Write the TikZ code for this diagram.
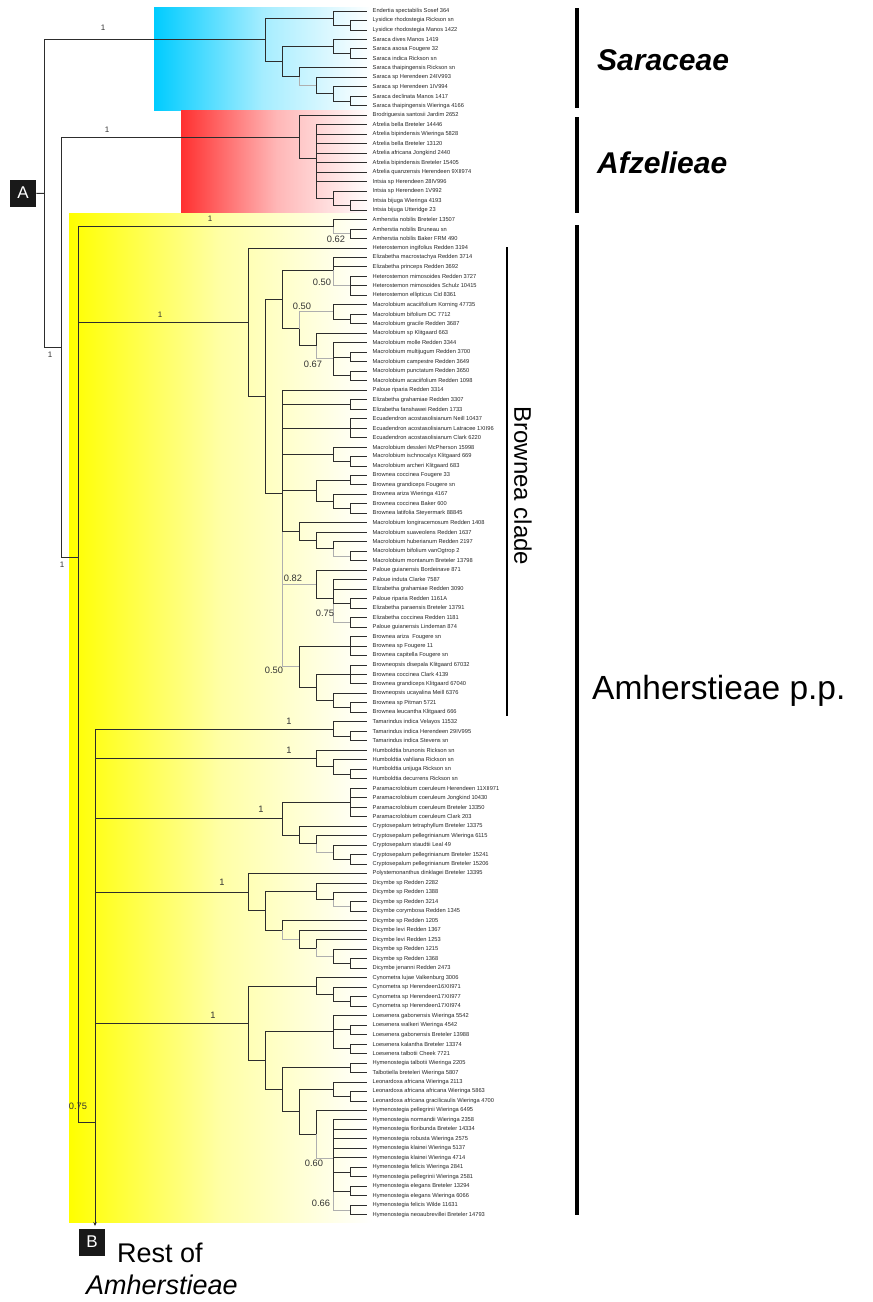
\documentclass[tikz,border=0pt]{standalone}
\usepackage{fontspec}
\setmainfont{Liberation Sans}
\usetikzlibrary{calc,arrows.meta}
\definecolor{cyanc}{RGB}{0,204,255}
\definecolor{redc}{RGB}{255,48,48}
\definecolor{yelc}{RGB}{255,255,0}
\definecolor{brc}{RGB}{45,45,45}
\definecolor{loc}{RGB}{175,175,175}
\pgfdeclarehorizontalshading{cyansh}{100bp}{color(0bp)=(cyanc); color(25bp)=(cyanc); color(50bp)=(cyanc!35!white); color(75bp)=(white); color(100bp)=(white)}
\pgfdeclarehorizontalshading{redsh}{100bp}{color(0bp)=(redc); color(25bp)=(redc); color(50bp)=(redc!35!white); color(75bp)=(white); color(100bp)=(white)}
\pgfdeclarehorizontalshading{yelsh}{100bp}{color(0bp)=(yelc); color(25bp)=(yelc); color(50bp)=(yelc!35!white); color(75bp)=(white); color(100bp)=(white)}
\newdimen\mydim
\newcommand\addy[1]{\pgfextracty{\mydim}{\pgfpointanchor{#1}{center}}%
  \pgfmathsetmacro\tmpS{\sumy+\mydim}\global\let\sumy\tmpS
  \pgfmathsetmacro\tmpC{\cnt+1}\global\let\cnt\tmpC}
\newcommand\nd[4]{%
  \gdef\sumy{0}\gdef\cnt{0}%
  \foreach \ch in {#3}{\addy{\ch}}%
  \if\relax\detokenize{#4}\relax\else\foreach \ch in {#4}{\addy{\ch}}\fi
  \pgfmathsetmacro\meany{\sumy/\cnt}%
  \coordinate (#1) at ({(367-17*#2)*1pt},{\meany*1pt});%
  \if\relax\detokenize{#4}\relax\else\foreach \ch in {#4}{\draw[lo] (#1) |- (\ch);}\fi
  \foreach \ch in {#3}{\draw[br] (#1) |- (\ch);}%
}
\begin{document}
\begin{tikzpicture}[x=1pt,y=-1pt,
  br/.style={draw=brc,line width=0.9pt},
  lo/.style={draw=loc,line width=0.9pt},
  taxon/.style={anchor=west,inner sep=0pt,text=black!85,font=\fontsize{5.7}{6}\selectfont},
  supp/.style={inner sep=0pt,text=black!80,font=\fontsize{9.3}{10}\selectfont},
  supps/.style={inner sep=0pt,text=black!80,font=\fontsize{8}{9}\selectfont},
  boxlab/.style={fill=black!90,text=white,minimum width=26,minimum height=27,inner sep=0pt,font=\fontsize{17}{17}\selectfont},
  bar/.style={line width=3.5pt,draw=black}]
\useasboundingbox (0,0) rectangle (873,1302);
% coloured backgrounds
\shade[shading=cyansh] (154,7) rectangle (372,110);
\shade[shading=redsh] (181,110) rectangle (372,214);
\shade[shading=yelsh] (69,213) rectangle (372,1222);
% tips
\foreach \i/\n in {0/Endertia spectabilis Sosef 364,1/Lysidice rhodostegia Rickson sn,2/Lysidice rhodostegia Manos 1422,3/Saraca dives Manos 1419,4/Saraca asosa Fougere 32,5/Saraca indica Rickson sn,6/Saraca thaipingensis Rickson sn,7/Saraca sp Herendeen 24IV993,8/Saraca sp Herendeen 1IV994,9/Saraca declinata Manos 1417,10/Saraca thaipingensis Wieringa 4166,
11/Brodriguesia santosii Jardim 2652,12/Afzelia bella Breteler 14446,13/Afzelia bipindensis Wieringa 5828,14/Afzelia bella Breteler 13120,15/Afzelia africana Jongkind 2440,16/Afzelia bipindensis Breteler 15405,17/Afzelia quanzensis Herendeen 9XII974,18/Intsia sp Herendeen 28IV996,19/Intsia sp Herendeen 1V992,20/Intsia bijuga Wieringa 4193,21/Intsia bijuga Utteridge 23,
22/Amherstia nobilis Breteler 13507,23/Amherstia nobilis Bruneau sn,24/Amherstia nobilis Baker FRM 490,25/Heterostemon ingifolius Redden 3194,26/Elizabetha macrostachya Redden 3714,27/Elizabetha princeps Redden 3692,28/Heterostemon mimosoides Redden 3727,29/Heterostemon mimosoides Schulz 10415,30/Heterostemon ellipticus Cid 8361,31/Macrolobium acaciifolium Korning 47735,32/Macrolobium bifolium DC 7712,33/Macrolobium gracile Redden 3687,34/Macrolobium sp Klitgaard 663,35/Macrolobium molle Redden 3344,36/Macrolobium multijugum Redden 3700,37/Macrolobium campestre Redden 3649,38/Macrolobium punctatum Redden 3650,39/Macrolobium acaciifolium Redden 1098,
40/Paloue riparia Redden 3314,41/Elizabetha grahamiae Redden 3307,42/Elizabetha fanshawei Redden 1733,43/Ecuadendron acostasolisianum Neill 10437,44/Ecuadendron acostasolisianum Latracee 1XII96,45/Ecuadendron acostasolisianum Clark 6220,46/Macrolobium dessleri McPherson 15998,47/Macrolobium ischnocalyx Klitgaard 669,48/Macrolobium archeri Klitgaard 683,49/Brownea coccinea Fougere 33,50/Brownea grandiceps Fougere sn,51/Brownea ariza Wieringa 4167,52/Brownea coccinea Baker 600,53/Brownea latifolia Steyermark 88845,54/Macrolobium longiracemosum Redden 1408,55/Macrolobium suaveolens Redden 1637,56/Macrolobium huberianum Redden 2197,57/Macrolobium bifolium vanOgtrop 2,58/Macrolobium montanum Breteler 13798,59/Paloue guianensis Bordeinave 871,
60/Paloue induta Clarke 7587,61/Elizabetha grahamiae Redden 3090,62/Paloue riparia Redden 1161A,63/Elizabetha paraensis Breteler 13791,64/Elizabetha coccinea Redden 1181,65/Paloue guianensis Lindeman 874,66/Brownea ariza\ \ Fougere sn,67/Brownea sp Fougere 11,68/Brownea capitella Fougere sn,69/Browneopsis disepala Klitgaard 67032,70/Brownea coccinea Clark 4139,71/Brownea grandiceps Klitgaard 67040,72/Browneopsis ucayalina Meill 6376,73/Brownea sp Pitman 5721,74/Brownea leucantha Klitgaard 666,
75/Tamarindus indica Velayos 11532,76/Tamarindus indica Herendeen 29IV995,77/Tamarindus indica Stevens sn,78/Humboldtia brunonis Rickson sn,79/Humboldtia vahliana Rickson sn,80/Humboldtia unijuga Rickson sn,81/Humboldtia decurrens Rickson sn,82/Paramacrolobium coeruleum Herendeen 11XII971,83/Paramacrolobium coeruleum Jongkind 10430,84/Paramacrolobium coeruleum Breteler 13350,85/Paramacrolobium coeruleum Clark 203,86/Cryptosepalum tetraphyllum Breteler 13375,87/Cryptosepalum pellegrinianum Wieringa 6115,88/Cryptosepalum staudtii Leal 49,89/Cryptosepalum pellegrinianum Breteler 15241,
90/Cryptosepalum pellegrinianum Breteler 15206,91/Polystemonanthus dinklagei Breteler 13395,92/Dicymbe sp Redden 2282,93/Dicymbe sp Redden 1388,94/Dicymbe sp Redden 3214,95/Dicymbe corymbosa Redden 1345,96/Dicymbe sp Redden 1205,97/Dicymbe levi Redden 1367,98/Dicymbe levi Redden 1253,99/Dicymbe sp Redden 1215,100/Dicymbe sp Redden 1368,101/Dicymbe jenanni Redden 2473,102/Cynometra lujae Valkenburg 3006,103/Cynometra sp Herendeen16XII971,104/Cynometra sp Herendeen17XII977,105/Cynometra sp Herendeen17XII974,106/Loesenera gabonensis Wieringa 5542,107/Loesenera walkeri Wieringa 4542,108/Loesenera gabonensis Breteler 13988,109/Loesenera kalantha Breteler 13374,
110/Loesenera talbotii Cheek 7721,111/Hymenostegia talbotii Wieringa 2205,112/Talbotiella breteleri Wieringa 5807,113/Leonardoxa africana Wieringa 2113,114/Leonardoxa africana africana Wieringa 5863,115/Leonardoxa africana gracilicaulis Wieringa 4700,116/Hymenostegia pellegrinii Wieringa 6495,117/Hymenostegia normandii Wieringa 2358,118/Hymenostegia floribunda Breteler 14334,119/Hymenostegia robusta Wieringa 2575,120/Hymenostegia klainei Wieringa 5137,121/Hymenostegia klainei Wieringa 4714,122/Hymenostegia felicis Wieringa 2841,123/Hymenostegia pellegrinii Wieringa 2581,124/Hymenostegia elegans Breteler 13294,125/Hymenostegia elegans Wieringa 6066,126/Hymenostegia felicis Wilde 11631,127/Hymenostegia neoaubrevillei Breteler 14793}
{\coordinate (t\i) at (367,{11+9.478*\i});
 \node[taxon] (n\i) at (372.5,{11+9.478*\i}) {\n};}
% Saraceae
\nd{s12}{1}{t1,t2}{}
\nd{s012}{2}{t0,s12}{}
\nd{s45}{1}{t4,t5}{}
\nd{s345}{2}{t3,s45}{}
\nd{s910}{1}{t9,t10}{}
\nd{s8}{2}{t8,s910}{}
\nd{s7}{3}{t7,s8}{}
\nd{s6}{4}{t6}{s7}
\nd{ssar}{5}{s345,s6}{}
\nd{SAR}{6}{s012,ssar}{}
% Afzelieae
\nd{a2021}{1}{t20,t21}{}
\nd{a19}{2}{t19,a2021}{}
\nd{aA}{3}{t12,t13,t14,t15,t16,t17,t18,a19}{}
\nd{AFZ}{4}{t11,aA}{}
% Amherstia
\nd{m2324}{1}{t23,t24}{}
\nd{AMH}{2}{t22}{m2324}
% Brownea clade
\nd{b2830}{1}{t28,t29,t30}{}
\nd{bB1}{2}{t26,t27}{b2830}
\nd{b3233}{1}{t32,t33}{}
\nd{b31}{2}{t31,b3233}{}
\nd{b3637}{1}{t36,t37}{}
\nd{b3839}{1}{t38,t39}{}
\nd{b35}{2}{t35,b3637,b3839}{}
\nd{b34}{3}{t34}{b35}
\nd{bB2}{4}{b34}{b31}
\nd{bA0}{5}{bB1,bB2}{}
\nd{b4142}{1}{t41,t42}{}
\nd{b4345}{1}{t43,t44,t45}{}
\nd{b4748}{1}{t47,t48}{}
\nd{b46}{2}{t46,b4748}{}
\nd{b4950}{1}{t49,t50}{}
\nd{b5253}{1}{t52,t53}{}
\nd{b51}{2}{t51,b5253}{}
\nd{b49}{3}{b4950,b51}{}
\nd{b5758}{1}{t57,t58}{}
\nd{b56}{2}{t56}{b5758}
\nd{b55}{3}{t55,b56}{}
\nd{b54}{4}{t54,b55}{}
\nd{b6263}{1}{t62,t63}{}
\nd{b6465}{1}{t64,t65}{}
\nd{b60}{2}{t60,t61,b6263}{b6465}
\nd{b59}{3}{t59,b60}{}
\nd{b6668}{1}{t66,t67,t68}{}
\nd{b6971}{1}{t69,t70,t71}{}
\nd{b7374}{1}{t73,t74}{}
\nd{b72}{2}{t72,b7374}{}
\nd{b69}{3}{b6971,b72}{}
\nd{b66}{4}{b6668,b69}{}
\nd{X}{5}{t40,b4142,b4345,b46,b49,b54}{b59,b66}
\nd{Q}{6}{bA0,X}{}
\nd{N25}{7}{t25,Q}{}
% lower Amherstieae
\nd{c7677}{1}{t76,t77}{}
\nd{TAM}{2}{t75,c7677}{}
\nd{c8081}{1}{t80,t81}{}
\nd{c79}{2}{t79,c8081}{}
\nd{HUM}{3}{t78,c79}{}
\nd{PAR}{1}{t82,t83,t84,t85}{}
\nd{c8990}{1}{t89,t90}{}
\nd{c88}{2}{t88,c8990}{}
\nd{c87}{3}{t87}{c88}
\nd{CRY}{4}{t86,c87}{}
\nd{PC}{5}{PAR,CRY}{}
\nd{c9495}{1}{t94,t95}{}
\nd{c93}{2}{t93}{c9495}
\nd{c92}{3}{t92,c93}{}
\nd{c100}{1}{t100,t101}{}
\nd{c99}{2}{t99,c100}{}
\nd{c98}{3}{t98}{c99}
\nd{c97}{4}{t97,c98}{}
\nd{c96}{5}{t96}{c97}
\nd{DIC}{6}{c92,c96}{}
\nd{POL}{7}{t91,DIC}{}
\nd{c104}{1}{t104,t105}{}
\nd{c103}{2}{t103,c104}{}
\nd{CYN}{3}{t102,c103}{}
\nd{c107}{1}{t107,t108}{}
\nd{c109}{1}{t109,t110}{}
\nd{LOE}{2}{t106,c107,c109}{}
\nd{c111}{1}{t111,t112}{}
\nd{c114}{1}{t114,t115}{}
\nd{LEO}{2}{t113,c114}{}
\nd{c122}{1}{t122,t123}{}
\nd{c124}{1}{t124,t125}{}
\nd{c126}{1}{t126,t127}{}
\nd{HYP}{2}{t117,t118,t119,t120,t121,c122,c124}{c126}
\nd{H116}{3}{t116}{HYP}
\nd{LH}{4}{LEO,H116}{}
\nd{TLH}{5}{c111,LH}{}
\nd{LTLH}{6}{LOE,TLH}{}
\nd{CLT}{7}{CYN,LTLH}{}
\coordinate (N1) at (95,1122);
\coordinate (restend) at (95,1226);
\foreach \ch in {TAM,HUM,PC,POL,CLT}{\draw[br] (N1) |- (\ch);}
\draw[br,-{Stealth[length=4pt,width=3.5pt]}] (N1) -- (restend);
\nd{N78}{17}{AMH,N25,N1}{}
\nd{N61}{18}{AFZ,N78}{}
\nd{ROOT}{19}{SAR,N61}{}
% labels A and B
\node[boxlab] (A) at (23,193) {A};
\draw[br] (A) -- (ROOT);
\node[boxlab] (B) at (92,1242) {B};
\node[anchor=base west,inner sep=0pt,font=\fontsize{27}{27}\selectfont] (rest1) at (117,1262) {Rest of};
\node[anchor=base west,inner sep=0pt,font=\fontsize{27}{27}\selectfont\itshape] (rest2) at (86,1294) {Amherstieae};
% support values
\node[supps] (p1) at (103,28) {1};
\node[supps] (p2) at (107,130) {1};
\node[supps] (p3) at (50,355) {1};
\node[supps] (p4) at (62,565) {1};
\node[supps] (p5) at (210,219) {1};
\node[supps] (p6) at (160,315) {1};
\node[supp] (p7) at (336,239) {0.62};
\node[supp] (p8) at (322,282) {0.50};
\node[supp] (p9) at (302,306) {0.50};
\node[supp] (p10) at (313,364) {0.67};
\node[supp] (p11) at (293,578) {0.82};
\node[supp] (p12) at (325,613) {0.75};
\node[supp] (p13) at (274,670) {0.50};
\node[supp] (p14) at (289,721) {1};
\node[supp] (p15) at (289,750) {1};
\node[supp] (p16) at (261,809) {1};
\node[supp] (p17) at (222,882) {1};
\node[supp] (p18) at (213,1015) {1};
\node[supp] (p19) at (78,1106) {0.75};
\node[supp] (p20) at (314,1163) {0.60};
\node[supp] (p21) at (321,1203) {0.66};
% clade bars and names
\draw[bar] (577,8) -- (577,108);
\draw[bar] (577,117) -- (577,213);
\draw[bar] (577,225) -- (577,1215);
\draw[line width=2.5pt] (507,247) -- (507,716);
\node[anchor=base west,inner sep=0pt,font=\fontsize{30}{30}\selectfont\bfseries\itshape] (sarn) at (597,70) {Saraceae};
\node[anchor=base west,inner sep=0pt,font=\fontsize{30}{30}\selectfont\bfseries\itshape] (afzn) at (597,173) {Afzelieae};
\node[anchor=base west,inner sep=0pt,font=\fontsize{33.5}{34}\selectfont] (amhn) at (592,699) {Amherstieae p.p.};
\node[rotate=-90,inner sep=0pt,font=\fontsize{24}{24}\selectfont] (bcn) at (523,486) {Brownea clade};
\end{tikzpicture}
\end{document}
